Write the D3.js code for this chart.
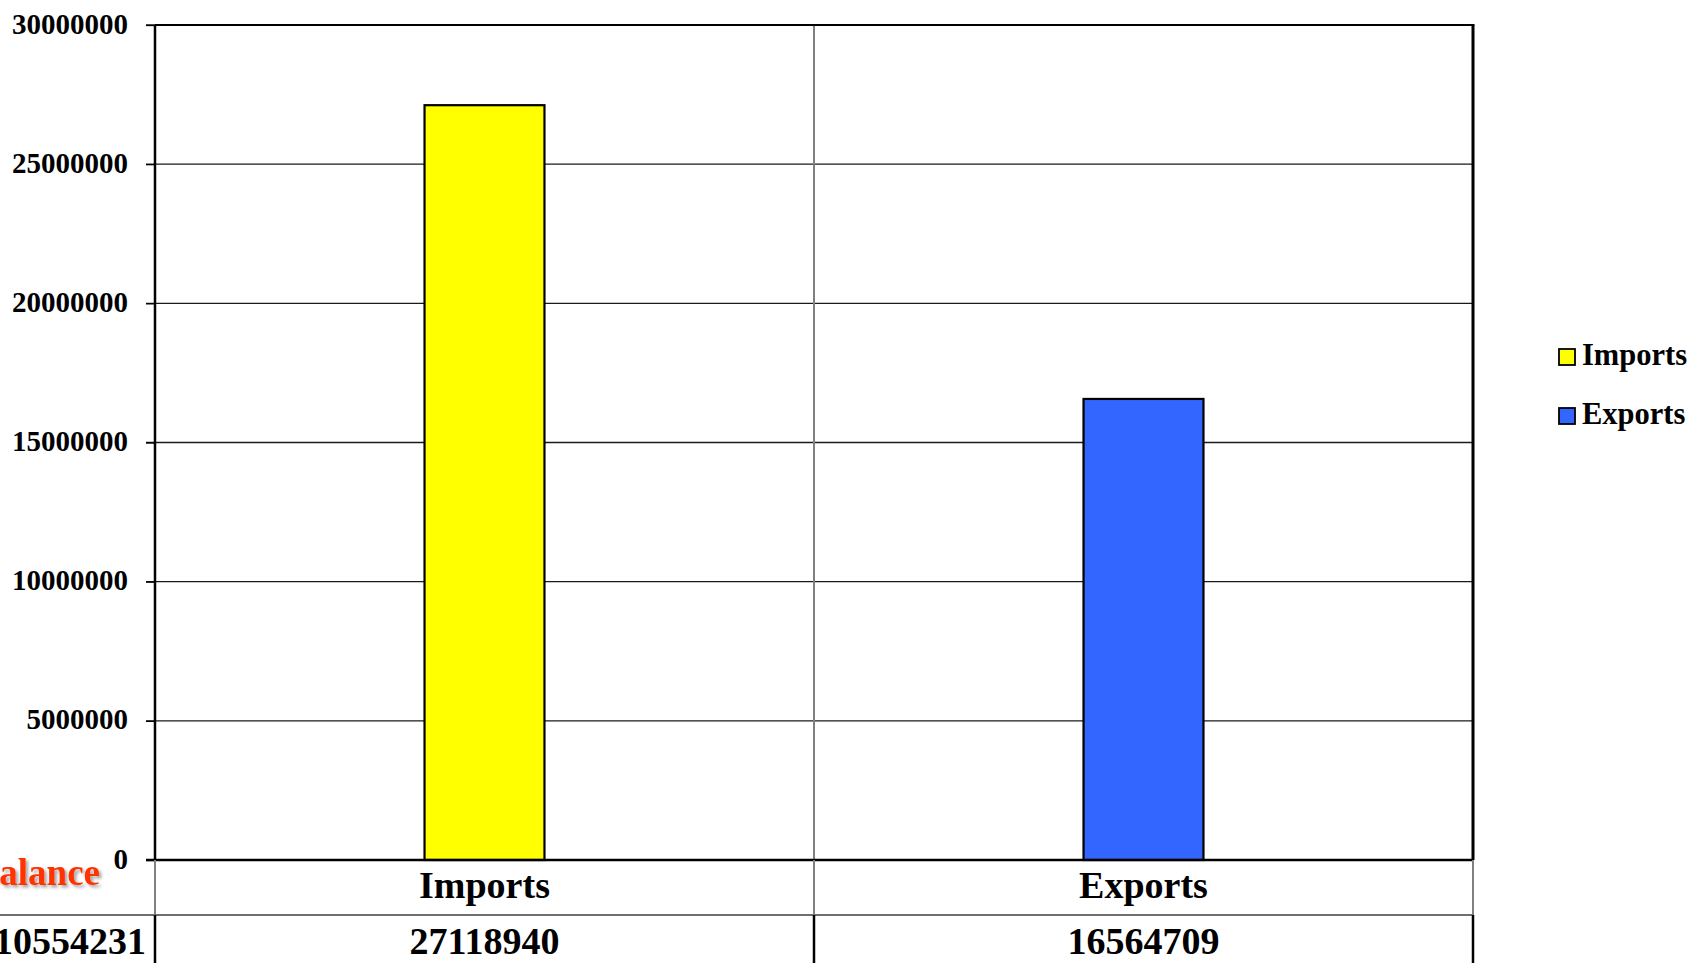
<!DOCTYPE html>
<html>
<head>
<meta charset="utf-8">
<script src="https://cdn.jsdelivr.net/npm/d3@7"></script>
<style>
  html, body { margin: 0; padding: 0; background: #fff; }
  svg { display: block; }
  text { font-family: "Liberation Serif", "Times New Roman", serif; font-weight: bold; }
</style>
</head>
<body>
<svg id="chart" width="1692" height="963"></svg>
<script>
// ---- data ----
const categories = ["Imports", "Exports"];
const values = [27118940, 16564709];
const colors = ["#ffff00", "#3366ff"];
const tickValues = [0, 5000000, 10000000, 15000000, 20000000, 25000000, 30000000];
const rowLabel = "Balance";
const balanceValue = 10554231;

// ---- layout ----
const plotL = 155, plotR = 1473, plotT = 25, plotB = 860;
const row1 = 915, row2 = 975;

const svg = d3.select("#chart");

const defs = svg.append("defs");
const f = defs.append("filter").attr("id", "shadow").attr("x", "-10%").attr("y", "-20%")
  .attr("width", "130%").attr("height", "150%");
f.append("feDropShadow").attr("dx", 2.5).attr("dy", 2.5).attr("stdDeviation", 1.6)
  .attr("flood-color", "#000").attr("flood-opacity", 0.35);

const x = d3.scaleBand().domain(categories).range([plotL, plotR]).padding(0);
const y = d3.scaleLinear().domain([0, 30000000]).range([plotB, plotT]);

// gridlines
svg.append("g").selectAll("line").data(tickValues).join("line")
  .attr("x1", plotL - 9).attr("x2", plotR)
  .attr("y1", d => y(d)).attr("y2", d => y(d))
  .attr("stroke", "#1a1a1a").attr("stroke-width", 1.3);

// vertical category separators inside plot
const seps = categories.slice(1).map(c => x(c));
svg.append("g").selectAll("line").data(seps).join("line")
  .attr("x1", d => d).attr("x2", d => d)
  .attr("y1", plotT).attr("y2", plotB)
  .attr("stroke", "#808080").attr("stroke-width", 2);

// bars
const bw = x.bandwidth() * 0.182;
svg.append("g").selectAll("rect").data(categories).join("rect")
  .attr("x", d => x(d) + x.bandwidth() / 2 - bw / 2)
  .attr("width", bw)
  .attr("y", (d, i) => y(values[i]))
  .attr("height", (d, i) => y(0) - y(values[i]))
  .attr("fill", (d, i) => colors[i])
  .attr("stroke", "#000").attr("stroke-width", 2.2);

// frame: top, right
svg.append("line").attr("x1", plotL).attr("x2", plotR + 1.5).attr("y1", plotT).attr("y2", plotT)
  .attr("stroke", "#000").attr("stroke-width", 2.2);
svg.append("line").attr("x1", plotR).attr("x2", plotR).attr("y1", plotT).attr("y2", plotB)
  .attr("stroke", "#000").attr("stroke-width", 3);

// y axis
const yAxis = d3.axisLeft(y).tickValues(tickValues).tickSize(9).tickPadding(18)
  .tickFormat(d3.format("d"));
const ga = svg.append("g").attr("transform", `translate(${plotL},0)`).call(yAxis);
ga.select(".domain").attr("stroke", "#000").attr("stroke-width", 2.5).attr("d", `M0,${plotT}V${plotB}`);
ga.selectAll(".tick line").attr("stroke", "#000").attr("stroke-width", 1.3);
ga.selectAll(".tick text")
  .attr("font-family", '"Liberation Serif", "Times New Roman", serif')
  .attr("font-weight", "bold").attr("font-size", 29).attr("fill", "#000")
  .attr("dy", "0.28em");

// zero axis line
svg.append("line").attr("x1", plotL - 9).attr("x2", plotR).attr("y1", y(0)).attr("y2", y(0))
  .attr("stroke", "#000").attr("stroke-width", 2.5);

// ---- data table ----
svg.append("line").attr("x1", 0).attr("x2", plotR).attr("y1", row1).attr("y2", row1)
  .attr("stroke", "#707070").attr("stroke-width", 2);
const vlines = [plotL].concat(seps).concat([plotR]);
svg.append("g").selectAll("line").data(vlines).join("line")
  .attr("x1", d => d).attr("x2", d => d).attr("y1", plotB).attr("y2", row1)
  .attr("stroke", "#808080").attr("stroke-width", 2);
svg.append("g").selectAll("line").data(vlines).join("line")
  .attr("x1", d => d).attr("x2", d => d).attr("y1", row1).attr("y2", row2)
  .attr("stroke", "#000").attr("stroke-width", 2.5);

svg.append("g").selectAll("text").data(categories).join("text")
  .attr("x", d => x(d) + x.bandwidth() / 2).attr("y", 898)
  .attr("text-anchor", "middle").attr("font-size", 38).attr("fill", "#000")
  .text(d => d);
svg.append("g").selectAll("text").data(categories).join("text")
  .attr("x", d => x(d) + x.bandwidth() / 2).attr("y", 954)
  .attr("text-anchor", "middle").attr("font-size", 38).attr("fill", "#000")
  .text((d, i) => values[i]);

// row label with soft shadow
svg.append("text").attr("x", 100).attr("y", 885).attr("text-anchor", "end")
  .attr("font-size", 37).attr("fill", "#ff3300").attr("filter", "url(#shadow)").text(rowLabel);
svg.append("text").attr("x", 146).attr("y", 954).attr("text-anchor", "end")
  .attr("font-size", 38).attr("fill", "#000").text(balanceValue);

// ---- legend ----
const lg = svg.append("g").selectAll("g").data(categories).join("g")
  .attr("transform", (d, i) => `translate(1559,${349 + i * 59})`);
lg.append("rect").attr("width", 16).attr("height", 16)
  .attr("fill", (d, i) => colors[i]).attr("stroke", "#000").attr("stroke-width", 1.8);
lg.append("text").attr("x", 23).attr("y", 16).attr("font-size", 30.5).attr("fill", "#000")
  .text(d => d);
</script>
</body>
</html>
